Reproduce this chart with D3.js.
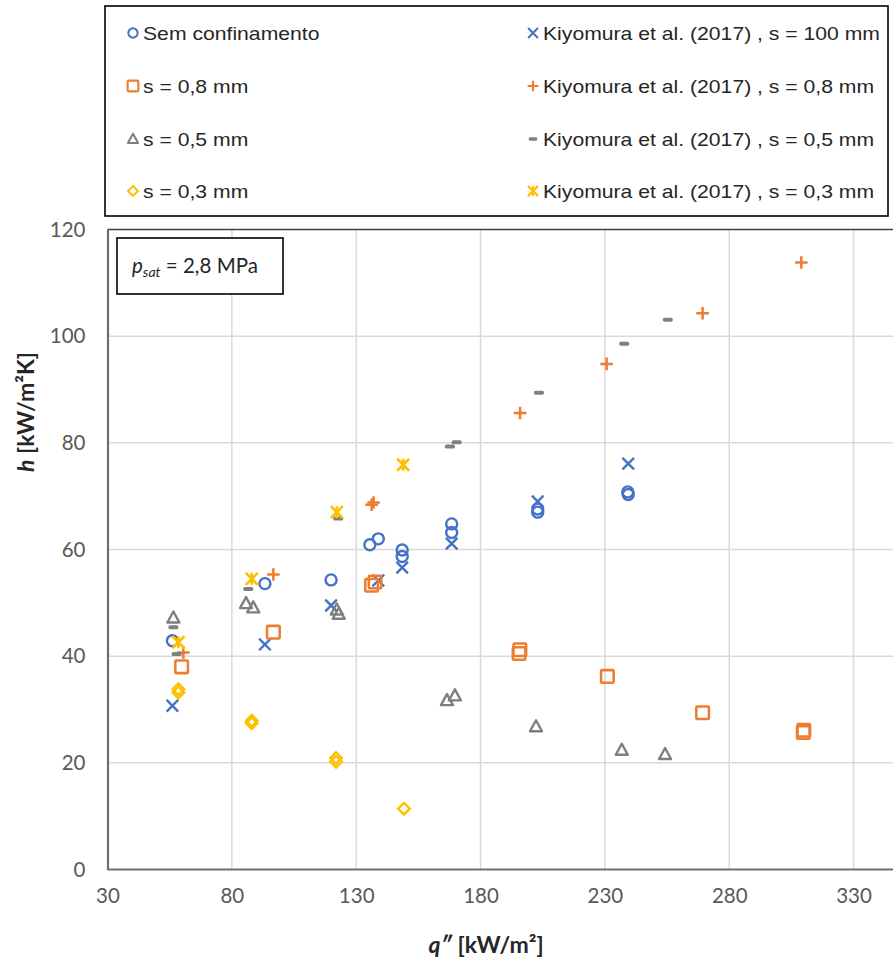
<!DOCTYPE html>
<html><head><meta charset="utf-8">
<script src="https://cdn.jsdelivr.net/npm/d3@7"></script>
<style>body{margin:0;background:#fff}svg{display:block}</style>
</head><body>
<script>
// ---- data ----
const xTicks = [30, 80, 130, 180, 230, 280, 330];
const yTicks = [0, 20, 40, 60, 80, 100, 120];

const semConfX = [56.1, 93.3, 119.9, 135.5, 138.9, 148.5, 148.5, 168.4, 168.4, 203.0, 203.0, 239.2, 239.4];
const semConfY = [42.9, 53.6, 54.3, 60.9, 62.0, 59.9, 58.7, 64.8, 63.2, 67.0, 67.6, 70.8, 70.3];

const kiy100X = [56.1, 93.3, 119.9, 138.9, 148.5, 168.4, 203.0, 239.4];
const kiy100Y = [30.7, 42.2, 49.5, 54.2, 56.6, 61.1, 69.0, 76.1];

const s08X = [59.8, 96.7, 136.2, 137.6, 195.5, 195.8, 231.0, 269.3, 309.8, 310.0];
const s08Y = [38.0, 44.5, 53.3, 53.9, 40.5, 41.2, 36.2, 29.4, 25.7, 26.1];

const kiy08X = [60.5, 96.7, 136.2, 137.0, 195.9, 230.7, 269.3, 309.0];
const kiy08Y = [40.7, 55.3, 68.4, 68.8, 85.6, 94.8, 104.3, 113.8];

const s05X = [56.5, 85.7, 88.6, 122.2, 123.0, 166.5, 169.7, 202.3, 236.8, 254.2];
const s05Y = [47.2, 49.9, 49.1, 48.7, 47.9, 31.7, 32.6, 26.8, 22.4, 21.6];

const kiy05X = [56.5, 57.8, 86.6, 122.8, 167.7, 170.4, 203.5, 237.8, 255.3];
const kiy05Y = [45.4, 40.4, 52.6, 65.8, 79.3, 80.1, 89.4, 98.6, 103.1];

const s03X = [58.5, 58.5, 88.0, 88.0, 121.9, 121.9, 149.2];
const s03Y = [33.2, 33.8, 27.9, 27.4, 20.9, 20.2, 11.4];

const kiy03X = [58.5, 88.0, 122.2, 148.9];
const kiy03Y = [42.6, 54.5, 67.0, 75.9];

const seriesNames = ["Sem confinamento", "Kiyomura et al. (2017) , s = 100 mm",
  "s = 0,8 mm", "Kiyomura et al. (2017) , s = 0,8 mm",
  "s = 0,5 mm", "Kiyomura et al. (2017) , s = 0,5 mm",
  "s = 0,3 mm", "Kiyomura et al. (2017) , s = 0,3 mm"];

// ---- styling ----
const BLUE = "#4472C4", ORANGE = "#ED7D31", GRAY = "#7F7F7F", YELLOW = "#FFC000";
const series = [
  {name: seriesNames[0], xs: semConfX, ys: semConfY, shape: "circle", color: BLUE},
  {name: seriesNames[1], xs: kiy100X, ys: kiy100Y, shape: "x", color: BLUE},
  {name: seriesNames[2], xs: s08X, ys: s08Y, shape: "square", color: ORANGE},
  {name: seriesNames[3], xs: kiy08X, ys: kiy08Y, shape: "plus", color: ORANGE},
  {name: seriesNames[4], xs: s05X, ys: s05Y, shape: "triangle", color: GRAY},
  {name: seriesNames[5], xs: kiy05X, ys: kiy05Y, shape: "dash", color: GRAY},
  {name: seriesNames[6], xs: s03X, ys: s03Y, shape: "diamond", color: YELLOW},
  {name: seriesNames[7], xs: kiy03X, ys: kiy03Y, shape: "star", color: YELLOW}
];

const W = 893, H = 965;
const svg = d3.select("body").append("svg").attr("width", W).attr("height", H);

const x = d3.scaleLinear().domain([30, 350]).range([107.5, 903.3]);
const y = d3.scaleLinear().domain([0, 120]).range([869.5, 229.5]);

const tickFont = "Lato, 'Open Sans', sans-serif";

svg.append("defs").append("clipPath").attr("id", "plotclip")
  .append("rect").attr("x", 100).attr("y", 222).attr("width", W - 100).attr("height", 660);

// gridlines
const grid = svg.append("g");
grid.selectAll(".vg").data(xTicks.slice(1)).enter().append("line")
  .attr("x1", d => x(d)).attr("x2", d => x(d)).attr("y1", y(0)).attr("y2", y(120))
  .attr("stroke", "#d9d9d9").attr("stroke-width", 1.5);
grid.selectAll(".hg").data(yTicks.slice(1, -1)).enter().append("line")
  .attr("x1", x(30)).attr("x2", W).attr("y1", d => y(d)).attr("y2", d => y(d))
  .attr("stroke", "#d9d9d9").attr("stroke-width", 1.5);
// top border
svg.append("line").attr("x1", x(30)).attr("x2", W).attr("y1", y(120)).attr("y2", y(120))
  .attr("stroke", "#404040").attr("stroke-width", 1.5);

// axes via d3 axis
const xAxis = svg.append("g").attr("transform", `translate(0,${y(0)})`)
  .call(d3.axisBottom(x).tickValues(xTicks).tickSize(0).tickPadding(31));
xAxis.select(".domain").attr("stroke", "#6e6e6e").attr("stroke-width", 2.2)
  .attr("d", `M${x(30)},0H${W}`);
xAxis.selectAll("text").attr("font-family", tickFont).attr("font-size", 20.5).attr("fill", "#595959")
  .attr("dy", "0.1em");

const yAxis = svg.append("g").attr("transform", `translate(${x(30)},0)`)
  .call(d3.axisLeft(y).tickValues(yTicks).tickSize(0).tickPadding(22));
yAxis.select(".domain").attr("stroke", "#6e6e6e").attr("stroke-width", 2.2);
yAxis.selectAll("text").attr("font-family", tickFont).attr("font-size", 20.5).attr("fill", "#595959");

// marker drawing
function drawMarker(g, shape, color, s) {
  const sw = 2.4 * s;
  switch (shape) {
    case "circle":
      g.append("circle").attr("r", 5.5 * s).attr("fill", "none").attr("stroke", color).attr("stroke-width", sw);
      break;
    case "square": {
      const h = 6.3 * s;
      g.append("rect").attr("x", -h).attr("y", -h).attr("width", 2 * h).attr("height", 2 * h).attr("rx", 1)
        .attr("fill", "none").attr("stroke", color).attr("stroke-width", sw * 1.05);
      break; }
    case "triangle": {
      const h = 6.3 * s;
      g.append("path").attr("d", `M0,${-h}L${h * 0.95},${h * 0.75}L${-h * 0.95},${h * 0.75}Z`)
        .attr("fill", "none").attr("stroke", color).attr("stroke-width", sw).attr("stroke-linejoin", "round");
      break; }
    case "diamond": {
      const h = 5.8 * s;
      g.append("path").attr("d", `M0,${-h}L${h},0L0,${h}L${-h},0Z`)
        .attr("fill", "none").attr("stroke", color).attr("stroke-width", sw);
      break; }
    case "x": {
      const h = 5.8 * s;
      g.append("path").attr("d", `M${-h},${-h}L${h},${h}M${h},${-h}L${-h},${h}`)
        .attr("fill", "none").attr("stroke", color).attr("stroke-width", sw);
      break; }
    case "plus": {
      const h = 6.3 * s;
      g.append("path").attr("d", `M${-h},0L${h},0M0,${-h}L0,${h}`)
        .attr("fill", "none").attr("stroke", color).attr("stroke-width", sw * 1.05);
      break; }
    case "dash":
      g.append("rect").attr("x", -5 * s).attr("y", -2 * s).attr("width", 10 * s).attr("height", 4 * s)
        .attr("rx", 1.6 * s).attr("fill", color);
      break;
    case "star": {
      const h = 6 * s;
      g.append("path").attr("d", `M${-h},${-h}L${h},${h}M${h},${-h}L${-h},${h}M0,${-h}L0,${h}`)
        .attr("fill", "none").attr("stroke", color).attr("stroke-width", sw * 1.1);
      break; }
  }
}

// points
const plot = svg.append("g").attr("clip-path", "url(#plotclip)");
series.forEach(sr => {
  const pts = sr.xs.map((v, i) => [v, sr.ys[i]]);
  plot.append("g").selectAll("g").data(pts).enter().append("g")
    .attr("transform", d => `translate(${x(d[0])},${y(d[1])})`)
    .each(function () { drawMarker(d3.select(this), sr.shape, sr.color, 1); });
});

// axis titles
const xt = svg.append("text").attr("x", 486).attr("y", 953).attr("text-anchor", "middle")
  .attr("font-family", "Lato, 'Open Sans', sans-serif").attr("font-weight", "bold")
  .attr("font-size", 23).attr("fill", "#262626");
xt.append("tspan").attr("font-style", "italic").text("q″");
xt.append("tspan").text(" [kW/m²]");

const yt = svg.append("text").attr("transform", "translate(34,412) rotate(-90)").attr("text-anchor", "middle")
  .attr("font-family", "Lato, 'Open Sans', sans-serif").attr("font-weight", "bold")
  .attr("font-size", 23).attr("fill", "#262626");
yt.append("tspan").attr("font-style", "italic").text("h");
yt.append("tspan").text(" [kW/m²K]");

// p_sat box
svg.append("rect").attr("x", 117).attr("y", 238).attr("width", 166).attr("height", 56)
  .attr("fill", "#fff").attr("stroke", "#000").attr("stroke-width", 1.6);
const pt = svg.append("text").attr("x", 132).attr("y", 273)
  .attr("font-family", "Lato, 'Open Sans', sans-serif").attr("font-size", 20.5).attr("fill", "#262626");
pt.append("tspan").attr("font-style", "italic").text("p");
pt.append("tspan").attr("font-style", "italic").attr("font-size", 14).attr("dy", 4).text("sat");
pt.append("tspan").attr("dy", -4).text(" = 2,8 MPa");

// legend
svg.append("rect").attr("x", 105).attr("y", 6).attr("width", 783).attr("height", 210)
  .attr("fill", "#fff").attr("stroke", "#000").attr("stroke-width", 1.6);
const rowsY = [33, 86, 139, 191];
const colMX = [133, 533], colTX = [143, 543];
const legTexts = [];
series.forEach((sr, i) => {
  const col = i % 2, row = Math.floor(i / 2);
  const g = svg.append("g").attr("transform", `translate(${colMX[col]},${rowsY[row]})`);
  drawMarker(g, sr.shape, sr.color, 0.85);
  const t = svg.append("text").attr("x", colTX[col]).attr("y", rowsY[row]).attr("dy", "0.36em")
    .attr("font-family", "'Liberation Sans', Arial, sans-serif").attr("font-size", 18.5)
    .attr("fill", "#262626").text(sr.name);
  legTexts.push(t);
});
// stretch legend text horizontally to match the reference width
const refLen = legTexts[1].node().getComputedTextLength();
const stretch = 337 / refLen;
legTexts.forEach(t => {
  const L = t.node().getComputedTextLength();
  t.attr("textLength", L * stretch).attr("lengthAdjust", "spacingAndGlyphs");
});
</script>
</body></html>
